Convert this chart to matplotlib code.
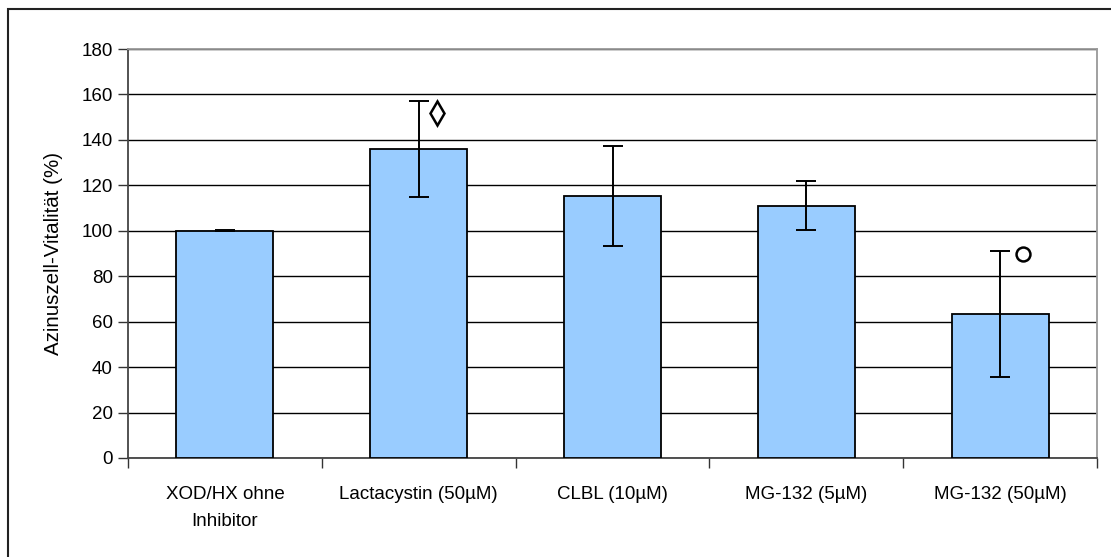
import matplotlib
matplotlib.use("Agg")
import matplotlib.pyplot as plt
from matplotlib.patches import Rectangle
from matplotlib.ticker import FixedLocator, NullFormatter

plt.rcParams['font.family'] = ['Liberation Sans', 'DejaVu Sans']

# Data
categories = ["XOD/HX ohne\nInhibitor", "Lactacystin (50µM)", "CLBL (10µM)",
              "MG-132 (5µM)", "MG-132 (50µM)"]
viability = [100, 136, 115.5, 111, 63.5]
errors = [0.3, 21, 22, 10.8, 27.8]
yticks = [0, 20, 40, 60, 80, 100, 120, 140, 160, 180]

# Significance symbols: (category index, y value, marker, size)
sig_marks = [(1, 152, "d", 12), (4, 90, "o", 10)]

fig = plt.figure(figsize=(11.11, 5.57), dpi=100)
# outer chart frame
fig.patches.append(Rectangle((8 / 1111, -0.1), 1.2, 1 - 9 / 557 + 0.1,
                             transform=fig.transFigure, fill=False,
                             edgecolor="#222222", linewidth=1.5, zorder=0))

ax = fig.add_axes([128 / 1111, 1 - 458 / 557, (1097 - 128) / 1111, (458 - 49) / 557])

x = list(range(len(categories)))
ax.bar(x, viability, width=0.5, color="#99CCFF", edgecolor="black",
       linewidth=1.3, zorder=3)
ax.errorbar(x, viability, yerr=errors, fmt="none", ecolor="black",
            elinewidth=1.4, capsize=7.5, capthick=1.4, zorder=4)

for i, yv, mk, size in sig_marks:
    dx = 0.095 if i == 1 else 0.12
    ax.plot([i + dx], [yv], marker=mk, markersize=size, markerfacecolor="white",
            markeredgecolor="black", markeredgewidth=1.8, linestyle="none",
            zorder=5)

ax.set_xlim(-0.5, len(categories) - 0.5)
ax.set_ylim(0, 180)
ax.set_yticks(yticks)
ax.yaxis.grid(True, color="black", linewidth=1.0, zorder=0)
ax.set_axisbelow(True)

ax.set_xticks(x)
ax.set_xticklabels(categories, fontsize=13.5, linespacing=1.75)
ax.tick_params(axis="x", which="major", length=0, pad=20)
ax.xaxis.set_minor_locator(FixedLocator([i - 0.5 for i in range(len(categories) + 1)]))
ax.xaxis.set_minor_formatter(NullFormatter())
ax.tick_params(axis="x", which="minor", length=7, width=1.0, color="#333333")
ax.tick_params(axis="y", length=7, width=1.0, labelsize=13.5, pad=4, color="#333333")

ax.set_ylabel("Azinuszell-Vitalität (%)", fontsize=14.8, labelpad=13)

for side in ("top", "right"):
    ax.spines[side].set_color("#999999")
    ax.spines[side].set_linewidth(1.3)
for side in ("left", "bottom"):
    ax.spines[side].set_color("#444444")
    ax.spines[side].set_linewidth(1.3)

fig.savefig("out.png", dpi=100)
